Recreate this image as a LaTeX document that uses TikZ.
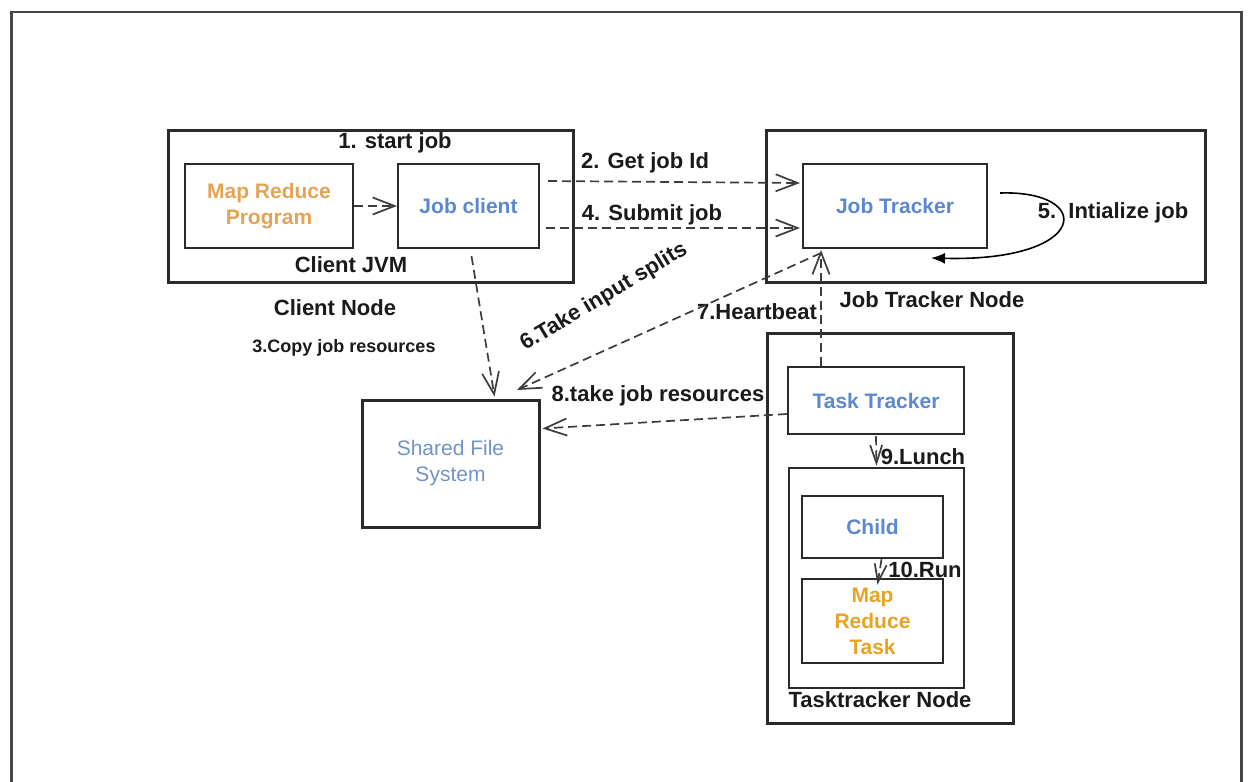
\documentclass[tikz,border=0pt]{standalone}
\usepackage{fontspec}
\setmainfont{Liberation Sans}
\usetikzlibrary{arrows.meta,calc}
\definecolor{txtblue}{HTML}{5B88CF}
\definecolor{fsblue}{HTML}{7094C8}
\definecolor{mrorange}{HTML}{E6A255}
\definecolor{taskorange}{HTML}{E6A325}
\definecolor{edgegray}{HTML}{2A2A2A}
\definecolor{flowgray}{HTML}{3C3C3C}
\definecolor{framegray}{HTML}{454545}
\definecolor{labelgray}{HTML}{1A1A1A}

\tikzset{
  box/.style={draw=edgegray, line width=2pt, inner sep=0pt, align=center,
              font=\bfseries\fontsize{21}{26}\selectfont},
  nodebox/.style={box, line width=3pt},
  lbl/.style={inner sep=0pt, text=labelgray, font=\bfseries\fontsize{22}{26}\selectfont},
  flow/.style={draw=flowgray, line width=1.7pt, dash pattern=on 9pt off 5pt,
               -{Straight Barb[length=22pt,width=17pt,line width=1.7pt]}},
  shortflow/.style={flow, -{Straight Barb[length=18pt,width=12pt,line width=1.7pt]}},
  loop/.style={draw=black, line width=1.6pt, -{Latex[length=14pt,width=11pt]}}
}

\begin{document}
\begin{tikzpicture}[x=1pt,y=-1pt]
\useasboundingbox (0,0) rectangle (1248,782);

% page frame (open at the bottom)
\draw[framegray, line width=1.5pt] (11,12) -- (1241,12);
\draw[framegray, line width=3pt] (11,800) -- (11,11.25);
\draw[framegray, line width=3pt] (1241,800) -- (1241,11.25);

% client side
\node[nodebox, minimum width=405pt, minimum height=152pt] (cn) at (370.5,206) {};
\node[box, minimum width=168pt, minimum height=84pt, text=mrorange] (mrp) at (269,206) {Map Reduce\\Program};
\node[box, minimum width=141pt, minimum height=84pt, text=txtblue] (jc) at (468.5,206) {Job client};
\node[lbl] (startjob) at (395,143) {1. start job};
\node[lbl] (cjvmlbl) at (351,265) {Client JVM};
\node[lbl] (cnlbl) at (335,308) {Client Node};
\node[lbl, font=\bfseries\fontsize{18}{22}\selectfont] (copylbl) at (344,348) {3.Copy job resources};

% job tracker side
\node[nodebox, minimum width=439pt, minimum height=152pt] (jtn) at (985.5,206) {};
\node[box, minimum width=184pt, minimum height=84pt, text=txtblue] (jt) at (895,206) {Job Tracker};
\node[lbl] (jtnlbl) at (932,300) {Job Tracker Node};
\node[lbl] (initlbl) at (1113,213) {5.\ \ Intialize job};

% shared file system
\node[nodebox, minimum width=177pt, minimum height=127pt, text=fsblue,
      font=\fontsize{21}{26}\selectfont] (sfs) at (450.5,463.5) {Shared File\\System};

% task tracker side
\node[nodebox, minimum width=246pt, minimum height=390pt] (ttn) at (890,528) {};
\node[box, line width=2.5pt, minimum width=176pt, minimum height=67pt, text=txtblue] (tt) at (876,400.5) {Task Tracker};
\node[box, line width=2.5pt, minimum width=175pt, minimum height=220pt] (cvm) at (876.5,578) {};
\node[box, line width=2.5pt, minimum width=141pt, minimum height=62pt, text=txtblue] (child) at (872.5,527) {Child};
\node[box, line width=2.5pt, minimum width=141pt, minimum height=84pt, text=taskorange] (mrt) at (872.5,621) {Map\\Reduce\\Task};
\node[lbl] (ttnlbl) at (880,700) {Tasktracker Node};
\node[lbl] (lunchlbl) at (923,457) {9.Lunch};
\node[lbl] (runlbl) at (925,570) {10.Run};

% message labels
\node[lbl] (getid) at (645,163) {2. Get job Id};
\node[lbl] (submit) at (652,215) {4. Submit job};
\node[lbl] (hblbl) at (757,312) {7.Heartbeat};
\node[lbl] (takeres) at (658,396) {8.take job resources};
\node[lbl, rotate=31] (splits) at (604,297) {6.Take input splits};

% anchor helpers
\coordinate (hb) at (821,0);
\coordinate (fsin) at (517,390);

% connectors
\draw[flow] (mrp.east) -- (jc.west);
\draw[flow] ($(jc.east)+(8,-25)$) -- ($(jt.west)+(-2,-23)$);
\draw[flow] ($(jc.east)+(6,22)$) -- ($(jt.west)+(-2,22)$);
\draw[flow] ($(jc.south)+(3,7)$) -- ($(sfs.north)+(44,-2)$);
\draw[flow] (tt.north -| hb) -- ($(jt.south -| hb)+(0,1)$);
\draw[flow] ($(jt.south -| hb)+(0,4)$) -- (fsin);
\draw[flow] ($(tt.west)+(0,13.5)$) -- ($(sfs.east)+(2,-35)$);
\draw[shortflow] ($(tt.south)+(0,1)$) -- ($(cvm.north)+(0,-1)$);
\draw[shortflow] ($(child.south)+(9,0)$) -- ($(mrt.north)+(5,7)$);

% self loop on the job tracker
\draw[loop] ($(jt.east)+(12,-13)$) .. controls (1095,190) and (1090,262) .. ($(jt.south east)+(-57,9)$);
\end{tikzpicture}
\end{document}
